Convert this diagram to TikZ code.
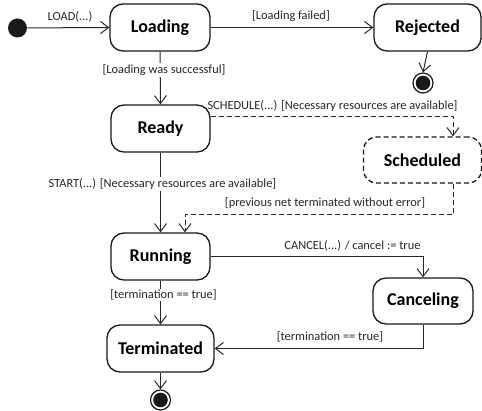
\documentclass[tikz,border=0pt]{standalone}
\usepackage{fontspec}
\setmainfont{Carlito}
\usetikzlibrary{arrows.meta}
\begin{document}
\begin{tikzpicture}[x=1pt,y=-1pt,
  line width=1pt,
  >={Straight Barb[length=8pt,width=12pt]},
  statebox/.style={draw=black!90, line width=1.3pt, rounded corners=13pt, minimum height=47pt,
     inner sep=0pt, font=\fontsize{18}{20}\selectfont\bfseries},
  lbl/.style={font=\fontsize{12.4}{15}\selectfont, inner sep=1pt, text=black!85},
  conn/.style={draw=black!85, ->},
  dsh/.style={dash pattern=on 5pt off 3pt}]
\useasboundingbox (0,0) rectangle (482,411);
% states
\node[statebox, minimum width=100pt] (Loading) at (160,27.5) {Loading};
\node[statebox, minimum width=107pt] (Rejected) at (427.5,27.5) {Rejected};
\node[statebox, minimum width=99pt] (Ready) at (160.5,128.5) {Ready};
\node[statebox, dsh, minimum width=118pt, minimum height=46pt] (Scheduled) at (422.5,160) {Scheduled};
\node[statebox, minimum width=99pt] (Running) at (160.5,256.5) {Running};
\node[statebox, minimum width=100pt, minimum height=46pt] (Canceling) at (423,301) {Canceling};
\node[statebox, minimum width=107pt] (Terminated) at (160.5,348.5) {Terminated};
% pseudo states
\node[circle, fill=black!90, minimum size=19pt, inner sep=0pt] (init) at (17.5,28) {};
\node[circle, draw=black!90, line width=1.2pt, minimum size=20pt, inner sep=0pt] (fin1) at (423,83) {};
\fill[black!90] (fin1.center) circle (7.3pt);
\node[circle, draw=black!90, line width=1.2pt, minimum size=20pt, inner sep=0pt] (fin2) at (160.5,400) {};
\fill[black!90] (fin2.center) circle (7.3pt);
% transitions
\draw[conn] (init) -- (Loading.west);
\node[lbl] (lLoad) at (70,17) {LOAD(...)};
\draw[conn] (Loading.east) -- (Rejected.west);
\node[lbl] (lFail) at (291,16) {[Loading failed]};
\draw[conn] (Rejected.south) -- (fin1.north);
\draw[conn] (Loading.south) -- (Ready.north);
\node[lbl, fill=white] (lSucc) at (164,70) {[Loading was successful]};
\draw[conn, dsh] ([yshift=12pt]Ready.east) -| ([xshift=30.5pt]Scheduled.north);
\node[lbl] (lSched) at (332.5,106) {SCHEDULE(...) [Necessary resources are available]};
\draw[conn] (Ready.south) -- (Running.north);
\node[lbl, fill=white] (lStart) at (162.5,184) {START(...) [Necessary resources are available]};
\draw[conn, dsh] ([xshift=30.5pt]Scheduled.south) -- ++(0,31) -| ([xshift=24.5pt]Running.north);
\node[lbl] (lPrev) at (325,203) {[previous net terminated without error]};
\draw[conn] (Running.east) -| (Canceling.north);
\node[lbl] (lCancel) at (352.5,246) {CANCEL(...) / cancel := true};
\draw[conn] (Running.south) -- (Terminated.north);
\node[lbl, fill=white] (lTerm1) at (163.5,295) {[termination == true]};
\draw[conn] (Canceling.south) |- (Terminated.east);
\node[lbl] (lTerm2) at (330,337) {[termination == true]};
\draw[conn] (Terminated.south) -- (fin2.north);
\end{tikzpicture}
\end{document}
